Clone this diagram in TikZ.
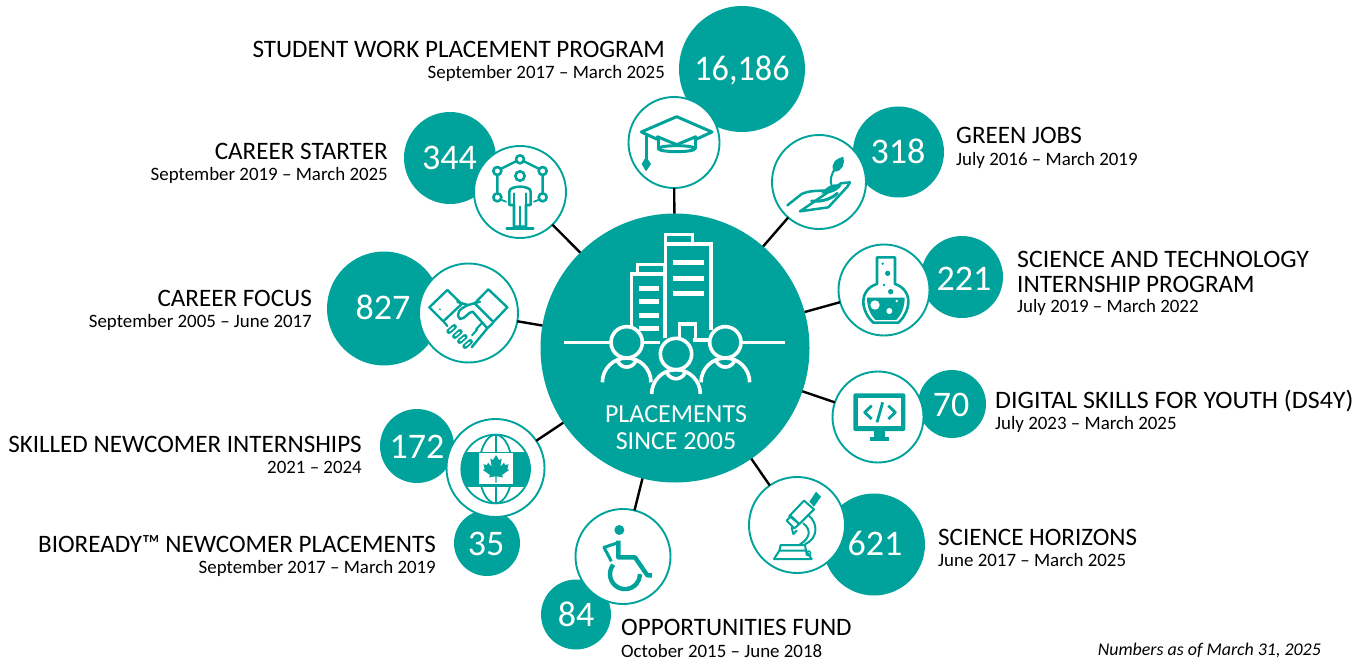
\documentclass[tikz,border=0pt]{standalone}
\usepackage{fontspec}
\setmainfont{Carlito}
\definecolor{teal1}{RGB}{0,163,155}
\tikzset{
  x=1pt,y=-1pt,
  disc/.style={circle,fill=teal1,inner sep=0,outer sep=0,minimum size=#1},
  icon/.style={circle,draw=teal1,line width=1.9pt,fill=white,inner sep=0,outer sep=0,minimum size=#1},
  link/.style={draw=black,line width=2.4pt},
  num/.style={text=white,font=\fontsize{36}{36}\selectfont,inner sep=0},
  ttl/.style={text=black,font=\fontsize{25.1}{25}\selectfont,inner sep=0,yshift=-1pt},
  sub/.style={text=black,font=\fontsize{18.9}{19}\selectfont,inner sep=0,yshift=-1pt},
  hubt/.style={text=white,font=\fontsize{26}{26}\selectfont,inner sep=0},
  wl/.style={draw=white,line width=3.6pt},
  tl/.style={draw=teal1,line width=2.2pt,line join=round,line cap=round},
  tf/.style={fill=teal1},
  zoomed/.style={shift={(#1)},scale=1/3}
}
\begin{document}
\begin{tikzpicture}
\useasboundingbox (0,0) rectangle (1365,663);
% number discs
\node[disc=126] (dA) at (742,69) {};
\node[disc=92] (dB) at (450,158) {};
\node[disc=91] (dC) at (898.5,152) {};
\node[disc=82] (dD) at (962,277) {};
\node[disc=68] (dE) at (952,404) {};
\node[disc=102] (dF) at (874,544.5) {};
\node[disc=114] (dG) at (384,308.5) {};
\node[disc=74] (dH) at (417,446) {};
\node[disc=66] (dI) at (487,543) {};
\node[disc=70] (dJ) at (576,614.5) {};
\node[num] (nA) at (742,70.5) {\scalebox{0.95}[1]{16,186}};
\node[num] (nB) at (449.5,158) {344};
\node[num] (nC) at (898,151) {318};
\node[num] (nD) at (964,278.5) {221};
\node[num] (nE) at (951,405) {70};
\node[num] (nF) at (875,543.5) {621};
\node[num] (nG) at (383,307) {827};
\node[num] (nH) at (417,446.5) {172};
\node[num] (nI) at (486,543.5) {35};
\node[num] (nJ) at (576,614.5) {84};
% hub and icon circles
\node[disc=269] (hub) at (675,348) {};
\node[icon=91] (iA) at (674,142.5) {};
\node[icon=92] (iB) at (520,192) {};
\node[icon=94] (iC) at (819,182) {};
\node[icon=91] (iD) at (884,290) {};
\node[icon=91] (iE) at (878,417) {};
\node[icon=96] (iF) at (797,525) {};
\node[icon=99] (iG) at (468.5,313) {};
\node[icon=98] (iH) at (495.5,468) {};
\node[icon=95] (iJ) at (623,556.5) {};
% connectors
\foreach \t in {iA,iB,iC,iD,iE,iF,iG,iH,iJ} \draw[link] (hub) -- (\t);
% hub drawing
\begin{scope}[zoomed={540,220}]
  \draw[wl] (72,368) -- (212,368);
  \draw[wl] (606,368) -- (736,368);
  \draw[wl] (310,368) -- (360,368);
  \draw[wl] (458,360) -- (510,360);
  \draw[wl] (274,318) |- (374,162);
  \draw[wl] (292,162) |- (374,134);
  \draw[wl] (376,355) |- (513,72) -- (513,330);
  \draw[wl] (376,72) |- (457,44) -- (457,72);
  \draw[wl] (374,134) -- (374,355);
  \draw[wl] (418,358) |- (467,312) -- (467,358);
  \foreach \y in {127,175,220} \draw[draw=white,line width=4.8pt] (400,\y) -- (492,\y);
  \foreach \y in {205,244,286,325} \draw[draw=white,line width=4.8pt] (296,\y) -- (356,\y);
  \foreach \c/\yy in {260/367,408/402,556/367} {
    \draw[wl] (\c,\yy) circle[radius=47];
    \pgfmathsetmacro{\bb}{\yy+120}
    \draw[wl] (\c-73,\bb) arc[start angle=180,end angle=360,radius=73];
    \draw[wl] (\c-27,\yy+57) .. controls (\c-15,\yy+80) and (\c+15,\yy+80) .. (\c+27,\yy+57);
  }
\end{scope}
\node[hubt] (h1) at (676,414) {PLACEMENTS};
\node[hubt] (h2) at (676,441) {SINCE 2005};
% graduation cap
\begin{scope}[zoomed={400,90}]
  \draw[tl,line width=3pt] (772,148) -- (724,126) -- (830,80) -- (936,126) -- (888,148);
  \draw[tl,line width=3pt] (772,140) -- (830,164) -- (888,140);
  \draw[tl,line width=3pt] (775,142) -- (775,175) (885,142) -- (885,175);
  \draw[tl,line width=3pt] (830,176) ellipse[x radius=55,y radius=9];
  \draw[tl,line width=3pt] (738,135) -- (738,205);
  \fill[tf] (738,200) -- (753,222) -- (738,244) -- (725,222) -- cycle;
\end{scope}
% person network
\begin{scope}[zoomed={400,90}]
  \foreach \p/\q in {360/208,292/243,428/243,292/322,428/322}
    \draw[tl,line width=2.6pt] (\p,\q) circle[radius=12];
  \draw[tl,line width=2.4pt] (304,236) -- (348,214) (372,214) -- (416,236) (292,255) -- (292,310) (428,255) -- (428,310);
  \draw[tl,line width=1.8pt] (305,330) -- (318,335) (415,330) -- (402,335);
  \draw[tl,line width=2.6pt] (360,258) circle[radius=14];
  \draw[tl,line width=2.6pt] (328,345) -- (328,305) .. controls (328,285) and (392,285) .. (392,305) -- (392,345) -- (378,345) -- (378,410) -- (342,410) -- (342,345) -- cycle;
  \draw[tl,line width=1.8pt] (342,310) -- (342,345) (378,310) -- (378,345) (360,350) -- (360,410);
  \draw[tl,line width=2.6pt] (320,415) -- (400,415);
\end{scope}
% plant in hand
\begin{scope}[zoomed={760,120}]
  \fill[tf] (222,155) .. controls (208,130) and (230,115) .. (250,110) .. controls (256,130) and (248,155) .. (222,155) -- cycle;
  \draw[tl,line width=2pt] (215,197) .. controls (208,180) and (215,165) .. (222,150);
  \fill[tf] (183,220) .. controls (205,193) and (228,188) .. (245,197) .. controls (232,214) and (205,225) .. (183,220) -- cycle;
  \draw[tl,line width=2.5pt] (82,256) -- (125,222) .. controls (145,212) and (175,212) .. (200,212) (243,190) -- (270,187) -- (262,200) -- (205,262) -- (120,274) -- cycle;
  \draw[tl,line width=3pt] (155,243) .. controls (180,246) and (210,240) .. (232,220);
\end{scope}
% flask
\begin{scope}[zoomed={760,120}]
  \draw[tl,line width=2.6pt] (351,412) -- (405,412) -- (405,492) .. controls (430,500) and (445,520) .. (445,545) .. controls (445,565) and (435,590) .. (415,608) -- (340,608) .. controls (320,590) and (310,565) .. (310,545) .. controls (310,520) and (325,500) .. (351,492) -- cycle;
  \fill[tf] (321,533) -- (434,533) .. controls (434,560) and (425,585) .. (408,600) -- (347,600) .. controls (330,585) and (321,560) .. (321,533) -- cycle;
  \fill[white] (345,555) circle[radius=14] (388,573) circle[radius=9] (410,543) circle[radius=4];
  \fill[tf] (368,431) circle[radius=4] (383,460) circle[radius=8] (372,495) circle[radius=4] (392,515) circle[radius=8];
\end{scope}
% monitor
\begin{scope}[zoomed={740,360}]
  \fill[tf,rounded corners=2pt] (340,100) rectangle (496,213);
  \fill[white] (353,113) rectangle (483,197);
  \fill[tf] (403,213) rectangle (435,232);
  \fill[tf] (390,230) rectangle (447,242);
  \draw[tl,line width=2.8pt,line cap=butt] (395,137) -- (374,157) -- (395,177);
  \draw[tl,line width=2.8pt,line cap=butt] (445,137) -- (466,157) -- (445,177);
  \draw[tl,line width=2.8pt,line cap=butt] (428,127) -- (411,187);
\end{scope}
% microscope
\begin{scope}[zoomed={740,360}]
  \draw[tl,line width=2pt] (148,468) -- (192,422) -- (222,448) -- (178,492) -- cycle;
  \draw[tl,line width=2pt] (140,482) -- (153,468) -- (178,492) -- (163,505) -- cycle;
  \draw[tl,line width=2pt] (155,503) -- (160,522) -- (170,512);
  \fill[tf] (208,425) -- (228,395) -- (243,410) -- (222,440) -- cycle;
  \draw[tl,line width=2pt] (205,465) .. controls (235,490) and (235,535) .. (195,553);
  \draw[tl,line width=2pt] (190,490) .. controls (215,510) and (210,535) .. (180,553);
  \draw[tl,line width=2pt] (122,555) -- (195,555) -- (198,572) -- (118,572) -- cycle;
  \draw[tl,line width=2pt] (118,572) -- (102,597) -- (215,597) -- (198,572);
  \draw[tl,line width=1.5pt] (205,580) circle[radius=7];
\end{scope}
% handshake
\begin{scope}[zoomed={400,260}]
  \draw[tl,line width=2.4pt] (88,142) -- (142,90) -- (185,132) -- (130,184) -- cycle;
  \draw[tl,line width=2.4pt] (265,88) -- (322,142) -- (280,186) -- (224,130) -- cycle;
  \draw[tl,line width=2.4pt] (172,126) -- (205,135);
  \draw[tl,line width=2.4pt] (240,125) -- (205,135) .. controls (180,145) and (165,160) .. (180,177) .. controls (195,178) and (205,155) .. (218,155) -- (262,205) -- (215,262) (278,190) -- (262,205);
  \draw[tl,line width=2pt] (245,190) -- (228,208) (232,208) -- (216,226);
  \fill[tf] (120,148) circle[radius=3];
  \draw[tl,line width=2.2pt] (130,184) -- (142,198);
  \foreach \p/\q in {155/207,172/222,187/237,203/252} {
    \draw[teal1,line width=5.2pt,line cap=round] (\p-8,\q+7) -- (\p+8,\q-7);
    \draw[white,line width=1.4pt,line cap=round] (\p-6,\q+5) -- (\p+6,\q-5);
  }
\end{scope}
% flag globe
\begin{scope}[zoomed={400,260}]
  \begin{scope}
    \clip (287,627) circle[radius=103];
    \fill[tf] (170,575) rectangle (400,680);
  \end{scope}
  \draw[tl,line width=1.8pt] (287,627) circle[radius=103];
  \draw[tl,line width=1.8pt] (287,627) ellipse[x radius=50,y radius=103];
  \draw[tl,line width=1.8pt] (287,524) -- (287,730);
  \fill[white] (238,580) rectangle (338,673);
  \fill[tf] (288,585) -- (279,600) -- (271,596) -- (275,620) -- (264,608) -- (261,615) -- (250,613) -- (254,626) -- (249,630) -- (270,645) -- (267,652) -- (286,649) -- (286,668) -- (290,668) -- (290,649) -- (309,652) -- (306,645) -- (327,630) -- (322,626) -- (326,613) -- (315,615) -- (312,608) -- (301,620) -- (305,596) -- (297,600) -- cycle;
\end{scope}
% wheelchair
\begin{scope}[zoomed={540,500}]
  \fill[tf] (238,90) circle[radius=15];
  \draw[tl,line width=4.4pt,line cap=butt] (235,122) -- (235,172) -- (285,172) -- (322,226) -- (336,226);
  \draw[tl,line width=3pt,line cap=butt] (235,128) -- (192,142) -- (214,184);
  \draw[tl,line width=4.4pt,line cap=butt] (220,194) arc[start angle=219,end angle=0,radius=45];
\end{scope}
% labels
\node[ttl,anchor=base east] (tA) at (665,57) {STUDENT WORK PLACEMENT PROGRAM};
\node[sub,anchor=base east] (sA) at (665,78) {September 2017 – March 2025};
\node[ttl,anchor=base east] (tB) at (388,159) {CAREER STARTER};
\node[sub,anchor=base east] (sB) at (388,180) {September 2019 – March 2025};
\node[ttl,anchor=base east] (tG) at (312,305) {CAREER FOCUS};
\node[sub,anchor=base east] (sG) at (312,326) {September 2005 – June 2017};
\node[ttl,anchor=base east] (tH) at (362,451) {SKILLED NEWCOMER INTERNSHIPS};
\node[sub,anchor=base east] (sH) at (362,472) {2021 – 2024};
\node[ttl,anchor=base east] (tI) at (436,551) {BIOREADY™ NEWCOMER PLACEMENTS};
\node[sub,anchor=base east] (sI) at (436,572) {September 2017 – March 2019};
\node[ttl,anchor=base west] (tC) at (956,143) {GREEN JOBS};
\node[sub,anchor=base west] (sC) at (956,165) {July 2016 – March 2019};
\node[ttl,anchor=base west] (tD1) at (1017,266) {\scalebox{1.03}[1]{SCIENCE AND TECHNOLOGY}};
\node[ttl,anchor=base west] (tD2) at (1017,291) {INTERNSHIP PROGRAM};
\node[sub,anchor=base west] (sD) at (1017,311) {July 2019 – March 2022};
\node[ttl,anchor=base west] (tE) at (995,407) {\scalebox{1.035}[1]{DIGITAL SKILLS FOR YOUTH (DS4Y)}};
\node[sub,anchor=base west] (sE) at (995,428) {July 2023 – March 2025};
\node[ttl,anchor=base west] (tF) at (938,544) {SCIENCE HORIZONS};
\node[sub,anchor=base west] (sF) at (938,565) {June 2017 – March 2025};
\node[ttl,anchor=base west] (tJ) at (621,634) {OPPORTUNITIES FUND};
\node[sub,anchor=base west] (sJ) at (621,656) {October 2015 – June 2018};
\node[anchor=base east,inner sep=0,font=\fontsize{17.9}{18}\selectfont\itshape] (note) at (1321,655) {Numbers as of March 31, 2025};
\end{tikzpicture}
\end{document}
